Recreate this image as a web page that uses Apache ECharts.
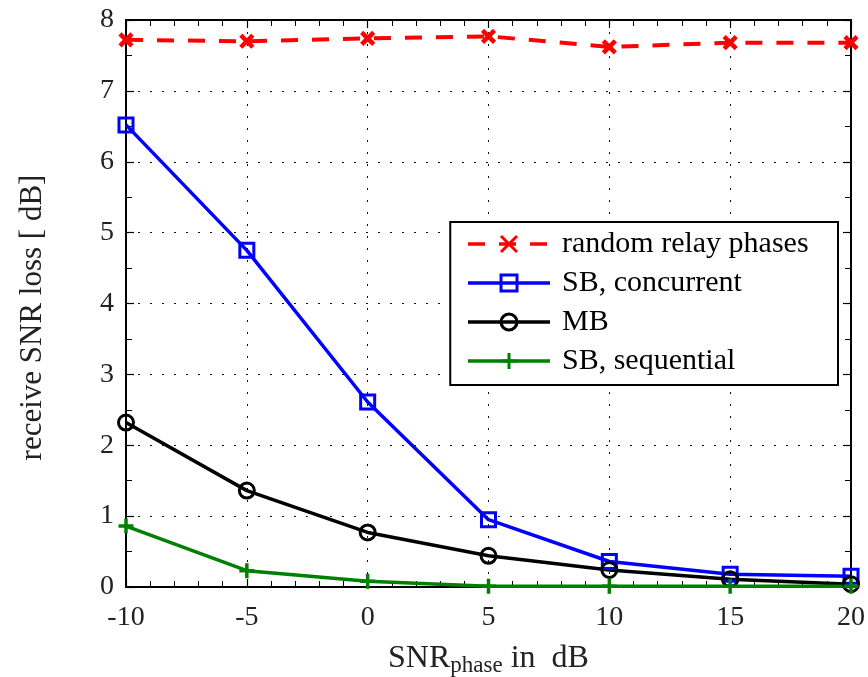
<!DOCTYPE html>
<html>
<head>
<meta charset="utf-8">
<script src="https://cdn.jsdelivr.net/npm/echarts@6/dist/echarts.min.js"></script>
<style>
html, body { margin: 0; padding: 0; background: #fff; }
#chart { width: 868px; height: 677px; }
</style>
</head>
<body>
<div id="chart"></div>
<script>
// SNR of the phase estimate (dB)
const snrPhase = [-10, -5, 0, 5, 10, 15, 20];

// receive SNR loss (dB) per scheme
const randomPhases   = [7.72, 7.70, 7.74, 7.77, 7.62, 7.68, 7.68];
const sbConcurrent   = [6.52, 4.75, 2.61, 0.95, 0.36, 0.18, 0.15];
const mbLoss         = [2.32, 1.36, 0.77, 0.44, 0.24, 0.11, 0.04];
const sbSequential   = [0.86, 0.23, 0.08, 0.01, 0.01, 0.01, 0.01];

const seriesNames = ['random relay phases', 'SB, concurrent', 'MB', 'SB, sequential'];

const xTicks = { min: -10, max: 20, step: 5 };
const yTicks = { min: 0, max: 8, step: 1 };

const pairs = ys => snrPhase.map((x, i) => [x, ys[i]]);

const serif = '"Liberation Serif", "DejaVu Serif", serif';
const crossPath = 'path://M0,0L10,10M10,0L0,10';
const plusPath = 'path://M5,0L5,10M0,5L10,5';

const chart = echarts.init(document.getElementById('chart'));

const dotted = { show: true, lineStyle: { color: '#111', width: 1, type: [2, 10] } };
const frameLine = { show: true, onZero: false, lineStyle: { color: '#000', width: 2 } };
const tickIn = { show: true, inside: true, length: 8, lineStyle: { color: '#000', width: 1.2 } };

chart.setOption({
  animation: false,
  backgroundColor: '#fff',
  grid: { left: 126, right: 17, top: 20, bottom: 90, outerBoundsMode: 'none', containLabel: false },
  legend: {
    right: 30, top: 222,
    orient: 'vertical',
    backgroundColor: '#fff',
    borderColor: '#000', borderWidth: 2,
    borderRadius: 0,
    padding: [7, 6, 9, 16],
    itemGap: 9,
    itemWidth: 82, itemHeight: 20,
    lineStyle: { width: 3.5 },
    itemStyle: { borderWidth: 3 },
    textStyle: {
      fontFamily: serif, fontSize: 30, color: '#000',
      lineHeight: 30, width: 270, padding: [0, 0, 0, 7]
    },
    data: seriesNames
  },
  xAxis: [{
    type: 'value', min: xTicks.min, max: xTicks.max, interval: xTicks.step,
    axisLine: frameLine,
    axisTick: tickIn,
    minorTick: { show: true, splitNumber: 5, length: 6, lineStyle: { color: '#000' } },
    axisLabel: { margin: 17, fontFamily: serif, fontSize: 28, color: '#222' },
    splitLine: dotted,
    name: '{a|SNR}{b|phase}{a| in  dB}',
    nameLocation: 'middle', nameGap: 53,
    nameTextStyle: {
      rich: {
        a: { fontFamily: serif, fontSize: 32, color: '#222' },
        b: { fontFamily: serif, fontSize: 23, color: '#222', verticalAlign: 'bottom', padding: [14, 0, 0, 0] }
      }
    }
  }, {
    type: 'value', position: 'top', min: xTicks.min, max: xTicks.max, interval: xTicks.step,
    axisLine: frameLine,
    axisTick: tickIn,
    minorTick: { show: true, splitNumber: 5, length: 6, lineStyle: { color: '#000' } },
    axisLabel: { show: false }, splitLine: { show: false }
  }],
  yAxis: [{
    type: 'value', min: yTicks.min, max: yTicks.max, interval: yTicks.step,
    axisLine: frameLine,
    axisTick: tickIn,
    minorTick: { show: true, splitNumber: 2, length: 6, lineStyle: { color: '#000' } },
    axisLabel: { margin: 12, fontFamily: serif, fontSize: 28, color: '#222' },
    splitLine: dotted,
    name: 'receive SNR loss [ dB]',
    nameLocation: 'middle', nameGap: 78, nameRotate: 90,
    nameTextStyle: { fontFamily: serif, fontSize: 31, color: '#222', padding: [0, 28, 0, 0] }
  }, {
    type: 'value', position: 'right', min: yTicks.min, max: yTicks.max, interval: yTicks.step,
    axisLine: frameLine,
    axisTick: tickIn,
    minorTick: { show: true, splitNumber: 2, length: 6, lineStyle: { color: '#000' } },
    axisLabel: { show: false }, splitLine: { show: false }
  }],
  series: [{
    name: seriesNames[0], type: 'line', data: pairs(randomPhases),
    symbol: crossPath, symbolSize: 12,
    lineStyle: { color: '#ff0000', width: 4, type: [17, 14] },
    itemStyle: { color: 'transparent', borderColor: '#ff0000', borderWidth: 4.5 },
    z: 4
  }, {
    name: seriesNames[1], type: 'line', data: pairs(sbConcurrent),
    symbol: 'rect', symbolSize: 14,
    lineStyle: { color: '#0000ff', width: 3.5 },
    itemStyle: { color: 'transparent', borderColor: '#0000ff', borderWidth: 3 },
    z: 3
  }, {
    name: seriesNames[2], type: 'line', data: pairs(mbLoss),
    symbol: 'circle', symbolSize: 15,
    lineStyle: { color: '#000000', width: 3.5 },
    itemStyle: { color: 'transparent', borderColor: '#000000', borderWidth: 3 },
    z: 3
  }, {
    name: seriesNames[3], type: 'line', data: pairs(sbSequential),
    symbol: plusPath, symbolSize: 15,
    lineStyle: { color: '#008000', width: 3.5 },
    itemStyle: { color: 'transparent', borderColor: '#008000', borderWidth: 3.5 },
    z: 3
  }]
});
</script>
</body>
</html>
